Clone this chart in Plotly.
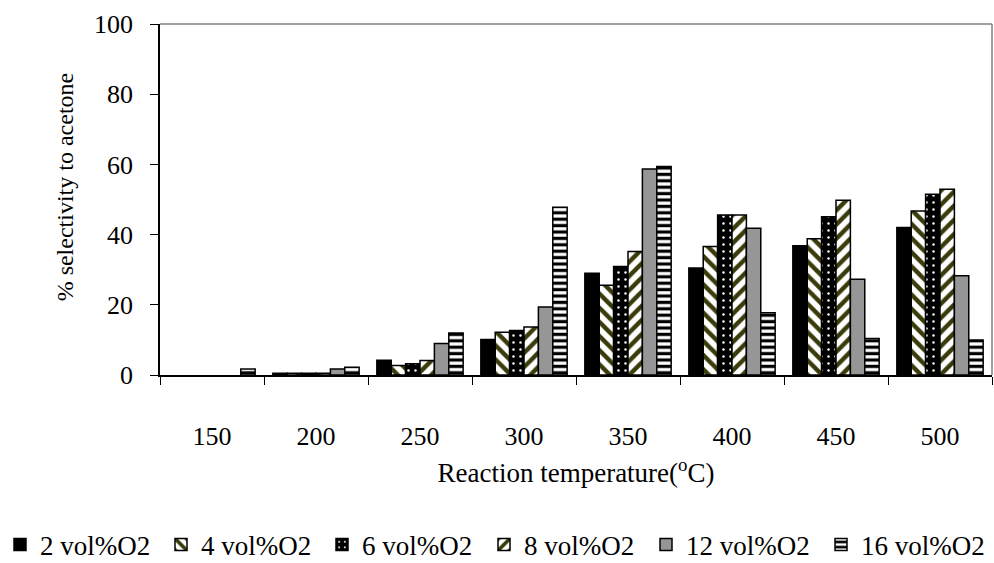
import plotly.graph_objects as go

temps = ["150", "200", "250", "300", "350", "400", "450", "500"]
o2_2 = [None, 0.5, 4.2, 10.1, 29.0, 30.5, 36.8, 42.0]
o2_4 = [None, 0.5, 2.7, 12.2, 25.6, 36.6, 38.8, 46.7]
o2_6 = [None, 0.5, 3.2, 12.7, 30.9, 45.6, 45.1, 51.5]
o2_8 = [None, 0.5, 4.1, 13.7, 35.2, 45.6, 49.8, 52.9]
o2_12 = [None, 1.7, 9.0, 19.4, 58.7, 41.8, 27.3, 28.3]
o2_16 = [1.7, 2.2, 12.0, 47.8, 59.4, 17.7, 10.4, 10.0]

names = ["2 vol%O2", "4 vol%O2", "6 vol%O2", "8 vol%O2", "12 vol%O2", "16 vol%O2"]
series = [o2_2, o2_4, o2_6, o2_8, o2_12, o2_16]

OLIVE = "#3a3a0a"
styles = [
    dict(color="black"),
    dict(color="white", pattern=dict(shape="\\", fgcolor=OLIVE, bgcolor="white",
                                     size=10, solidity=0.45, fillmode="replace")),
    dict(color="black", pattern=dict(shape=".", fgcolor="white", bgcolor="black",
                                     size=7, solidity=0.1, fillmode="replace")),
    dict(color="white", pattern=dict(shape="/", fgcolor=OLIVE, bgcolor="white",
                                     size=10, solidity=0.45, fillmode="replace")),
    dict(color="#969696"),
    dict(color="white", pattern=dict(shape="-", fgcolor="black", bgcolor="white",
                                     size=6.4, solidity=0.5, fillmode="replace")),
]

FONT = "Liberation Serif, Times New Roman, serif"
W, H = 994, 563
# legend entry left positions (pixels) in the reference
legend_x_px = [0, 161, 322, 484, 646, 821]

fig = go.Figure()
legend_layout = {}
for i, (name, vals, st) in enumerate(zip(names, series, styles)):
    marker = dict(line=dict(color="black", width=1.5))
    marker.update(st)
    lg = "legend" if i == 0 else f"legend{i + 1}"
    fig.add_trace(go.Bar(x=temps, y=vals, name=name, marker=marker, legend=lg))
    legend_layout[lg] = dict(
        orientation="h", xref="container", yref="container",
        x=legend_x_px[i] / W, xanchor="left", y=18 / H, yanchor="middle",
        font=dict(family=FONT, size=27, color="black"),
        itemclick=False, borderwidth=0, bgcolor="rgba(0,0,0,0)",
    )

fig.update_layout(
    width=W, height=H,
    barmode="group", bargap=0.17, bargroupgap=0,
    plot_bgcolor="white", paper_bgcolor="white",
    margin=dict(l=160, r=2, t=24, b=187.5),
    font=dict(family=FONT, size=26, color="black"),
    showlegend=True,
    shapes=[
        dict(type="line", xref="paper", yref="paper", x0=0, x1=1, y0=1, y1=1,
             line=dict(color="#808080", width=1.5)),
        dict(type="line", xref="paper", yref="paper", x0=1, x1=1, y0=0, y1=1,
             line=dict(color="#808080", width=1.5)),
    ],
    annotations=[
        dict(text="% selectivity to acetone", xref="paper", yref="paper",
             x=-0.114, y=0.535, xanchor="center", yanchor="middle",
             textangle=-90, showarrow=False, font=dict(family=FONT, size=24)),
    ],
    **legend_layout,
)

fig.update_xaxes(
    type="category", tickson="boundaries", ticks="outside", ticklen=8,
    tickcolor="black", showline=True, linecolor="black", linewidth=1.5,
    showgrid=False, tickfont=dict(size=26), ticklabelstandoff=37,
    title=dict(text="Reaction temperature(<sup>o</sup>C)", font=dict(size=27), standoff=13),
)
fig.update_yaxes(
    range=[0, 100], dtick=20, ticks="outside", ticklen=8, tickcolor="black",
    showline=True, linecolor="black", linewidth=1.5, showgrid=False, zeroline=False,
    tickfont=dict(size=26), ticklabelstandoff=12,
)

fig.write_html("out.html")
